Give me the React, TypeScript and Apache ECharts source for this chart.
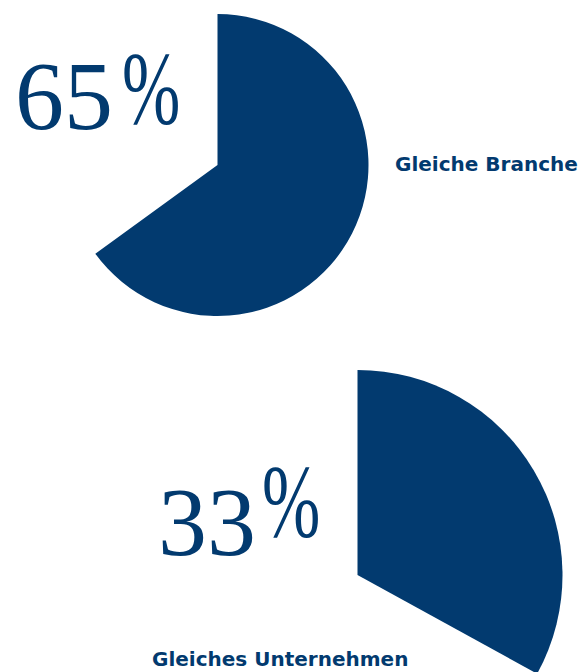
import React, { useEffect, useRef } from "react";
import * as echarts from "echarts";

const categories = ["Gleiche Branche", "Gleiches Unternehmen"];
const values = [65, 33];
const valueLabels = ["65", "33"];

const BLUE = "#023a6f";

export default function App() {
  const ref = useRef<HTMLDivElement>(null);
  useEffect(() => {
    if (!ref.current) return;
    const chart = echarts.init(ref.current, null, { renderer: "svg" });
    const centers = [
      [217.5, 165],
      [357.5, 575],
    ];
    const radii = [151, 205];
    const series = values.map((v, i) => ({
      type: "pie",
      name: categories[i],
      center: centers[i],
      radius: radii[i],
      startAngle: 90,
      clockwise: true,
      silent: true,
      label: { show: false },
      labelLine: { show: false },
      emphasis: { disabled: true },
      data: [
        { name: categories[i], value: v, itemStyle: { color: BLUE } },
        { name: "Rest", value: 100 - v, itemStyle: { color: "rgba(0,0,0,0)" } },
      ],
    }));

    const numPos = [
      { x: 15, y: 145, px: 122, py: 141 },
      { x: 158, y: 571, px: 262, py: 554 },
    ];
    const labelPos = [
      { x: 395, y: 174 },
      { x: 152, y: 669 },
    ];

    const graphic: any[] = [];
    valueLabels.forEach((t, i) => {
      graphic.push({
        type: "text",
        x: numPos[i].x,
        y: numPos[i].y,
        silent: true,
        style: {
          text: t,
          fill: BLUE,
          fontFamily: "Liberation Serif",
          fontSize: 98,
          textAlign: "left",
          textVerticalAlign: "bottom",
        },
      });
      graphic.push({
        type: "text",
        x: numPos[i].px,
        y: numPos[i].py,
        scaleX: 0.68,
        silent: true,
        style: {
          text: "%",
          fill: BLUE,
          fontFamily: "Liberation Serif",
          fontSize: 103,
          textAlign: "left",
          textVerticalAlign: "bottom",
        },
      });
    });
    categories.forEach((c, i) => {
      graphic.push({
        type: "text",
        x: labelPos[i].x,
        y: labelPos[i].y,
        silent: true,
        style: {
          text: c,
          fill: BLUE,
          fontFamily: "DejaVu Sans",
          fontWeight: "bold",
          fontSize: 20,
          lineHeight: 20,
          textAlign: "left",
          textVerticalAlign: "bottom",
        },
      });
    });

    chart.setOption({
      animation: false,
      series,
      graphic,
    });
    return () => chart.dispose();
  }, []);
  return (
    <div
      ref={ref}
      style={{ position: "absolute", left: 0, top: 0, width: 581, height: 672 }}
    />
  );
}
